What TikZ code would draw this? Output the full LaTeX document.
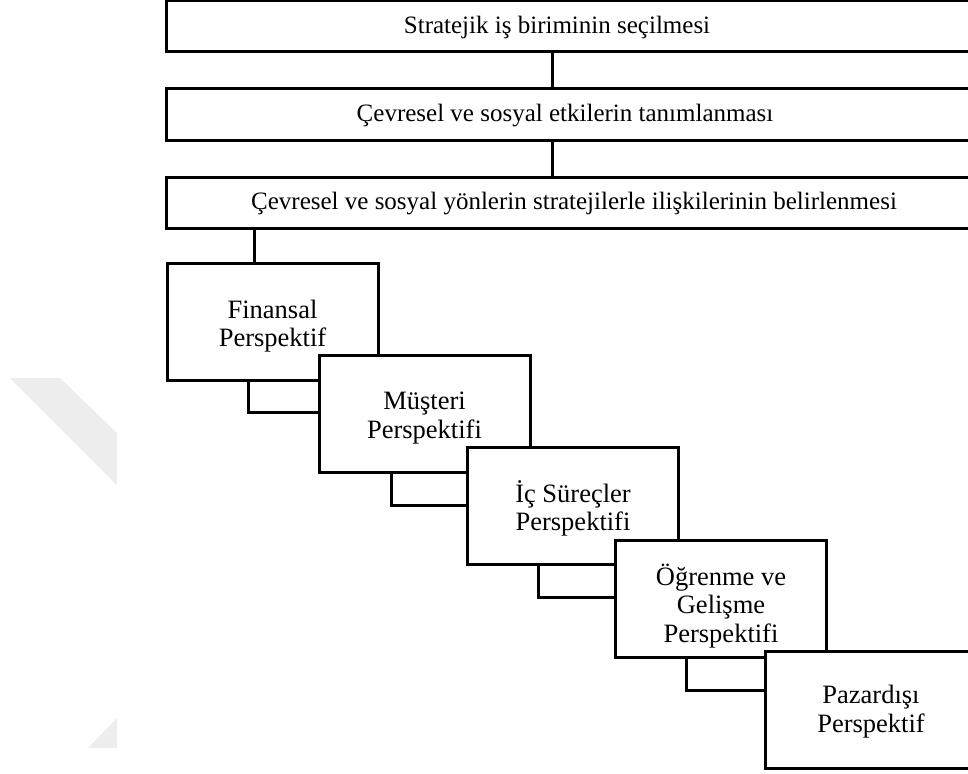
\documentclass[tikz,border=0pt]{standalone}
\usepackage{fontspec}
\setmainfont{Liberation Serif}
\begin{document}
\begin{tikzpicture}[x=1pt, y=-1pt,
  frame/.style={draw=black, line width=3pt, fill=white, inner sep=0pt},
  wide/.style={frame, minimum width=820pt, minimum height=51pt},
  persp/.style={frame, minimum width=211pt, minimum height=117pt},
  caption/.style={inner sep=0pt, font=\fontsize{25}{29}\selectfont},
  pcaption/.style={inner sep=0pt, align=center, font=\fontsize{26.5}{28.5}\selectfont},
  link/.style={draw=black, line width=3pt}
]
\useasboundingbox (0,0) rectangle (968,773);

% faint background mark on the left
\fill[black!7] (10,378) -- (60,378) -- (117,433) -- (117,485) -- cycle;
\fill[black!7] (117,718) -- (117,748) -- (88,748) -- cycle;

% three stacked steps across the top
\node[wide] (s1) at (576,26.5) {};
\node[caption] (s1t) at (557,27) {Stratejik iş biriminin seçilmesi};
\node[wide] (s2) at (576,114.5) {};
\node[caption] (s2t) at (565,116) {Çevresel ve sosyal etkilerin tanımlanması};
\node[wide] (s3) at (576,202.5) {};
\node[caption] (s3t) at (574,204) {Çevresel ve sosyal yönlerin stratejilerle ilişkilerinin belirlenmesi};

\coordinate (spine) at (552,0);
\draw[link] (s1.south -| spine) -- (s2.north -| spine);
\draw[link] (s2.south -| spine) -- (s3.north -| spine);

% cascading perspective boxes, each with its caption
\node[persp] (p1) at (272.5,322) {};
\node[pcaption] (p1t) at ([yshift=-4pt]p1.center) {Finansal\\Perspektif};
\node[persp] (p2) at (424.5,414) {};
\node[pcaption] (p2t) at ([yshift=-4pt]p2.center) {Müşteri\\Perspektifi};
\node[persp] (p3) at (573,505.5) {};
\node[pcaption] (p3t) at ([yshift=-3pt]p3.center) {İç Süreçler\\Perspektifi};
\node[persp] (p4) at (721,599) {};
\node[pcaption] (p4t) at ([yshift=-7pt]p4.center) {Öğrenme ve\\Gelişme\\Perspektifi};
\node[persp] (p5) at (871,709.5) {};
\node[pcaption] (p5t) at ([yshift=-2pt]p5.center) {Pazardışı\\Perspektif};

\draw[link] ([xshift=-18.5pt]p1.north) -- ([xshift=-18.5pt]p1.north |- s3.south);

% elbow links from each box down into the next one
\draw[link] ([xshift=-24.5pt]p1.south) |- ([yshift=-58pt]p2.north west);
\draw[link] ([xshift=-33.5pt]p2.south) |- ([yshift=-60pt]p3.north west);
\draw[link] ([xshift=-35pt]p3.south) |- ([yshift=-58pt]p4.north west);
\draw[link] ([xshift=-35pt]p4.south) |- ([yshift=-41pt]p5.north west);
\end{tikzpicture}
\end{document}
